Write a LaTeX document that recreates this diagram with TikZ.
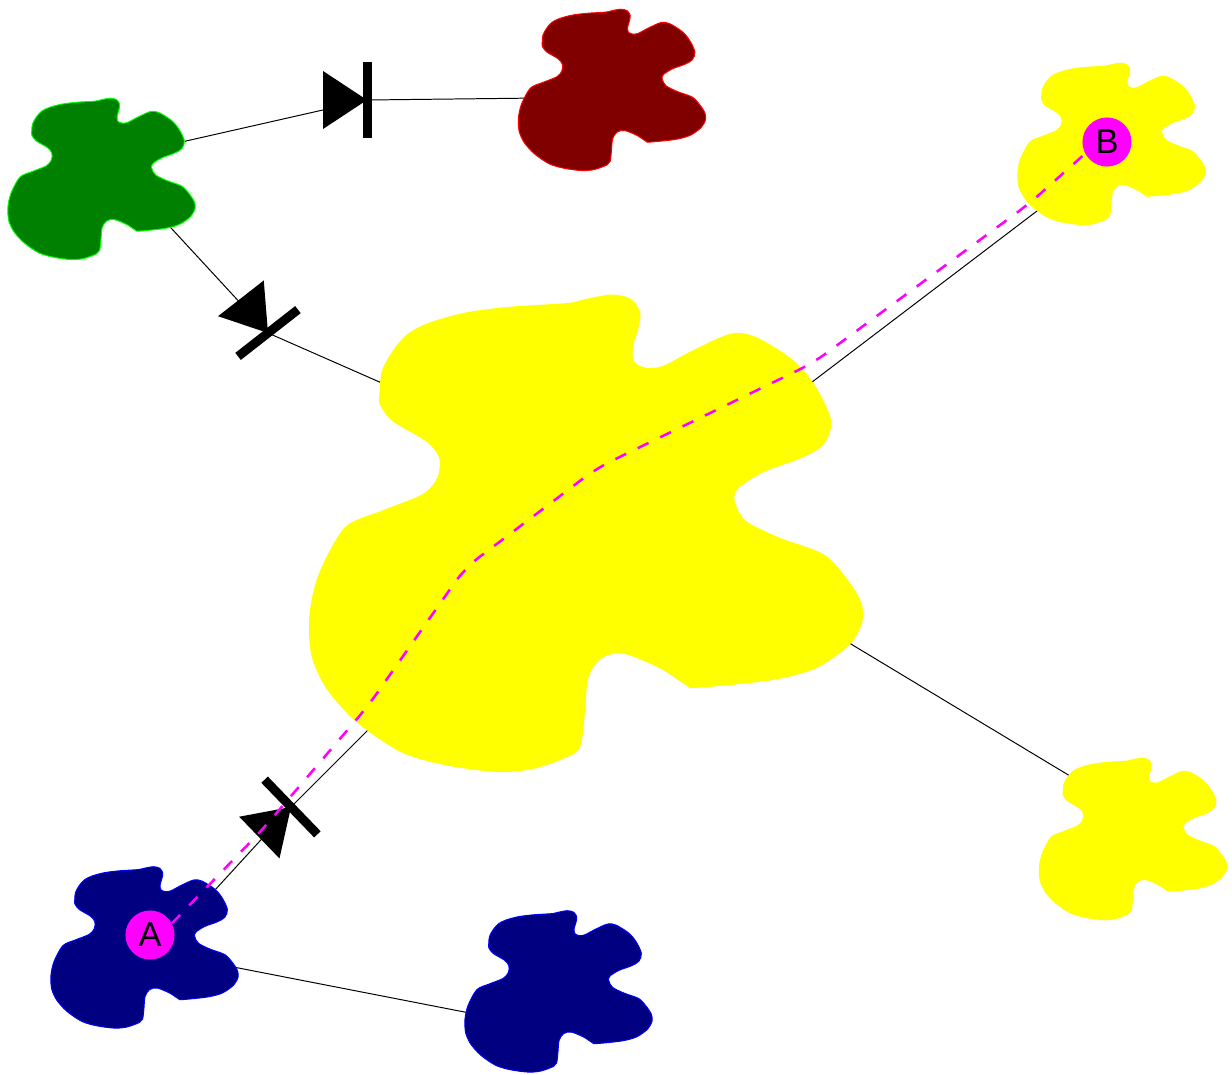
\documentclass[tikz,border=0pt]{standalone}
\usepackage{fontspec}
\setmainfont{Liberation Sans}
\usepackage{tikz}

\definecolor{leafgreen}{RGB}{0,128,0}
\definecolor{darkmaroon}{RGB}{128,0,0}
\definecolor{deepnavy}{RGB}{0,0,128}
\definecolor{rimgreen}{RGB}{0,255,0}
\definecolor{rimred}{RGB}{255,0,0}
\definecolor{rimblue}{RGB}{0,0,255}
\definecolor{sunyellow}{RGB}{255,255,0}
\definecolor{hotmagenta}{RGB}{255,0,255}

\tikzset{
  blob/.pic={
    \path[pic actions] plot[smooth cycle] coordinates {
      (-69.7,-48.3) (-69.0,-55.0) (-65.3,-61.8) (-60.3,-67.5) (-52.7,-71.4)
      (-40.2,-74.8) (-25.1,-76.7) (-6.3,-77.9) (0,-79.3) (8.8,-80.8)
      (15.1,-79.3) (18.2,-74.8) (17.6,-69.7) (15.7,-63.0) (16.3,-57.9)
      (20.7,-55.9) (26.4,-56.7) (35.1,-61.3) (49.0,-67.5) (57.7,-66.3)
      (70.3,-58.4) (77.8,-49.4) (82.9,-38.1) (80.3,-30.2) (72.8,-25.7)
      (60.3,-21.1) (51.5,-15.5) (50.2,-11.0) (54.0,-4.2) (65.3,1.5)
      (80.3,7.1) (87.9,15.0) (92.9,22.9) (93.5,29.7) (89.1,37.6)
      (77.8,45.5) (62.8,49.5) (37.7,52.1) (33.9,51.2) (25.1,45.5)
      (12.6,40.5) (5.0,42.2) (0.6,48.9) (-0.6,61.4) (-1.9,71.5)
      (-5.0,74.9) (-17.6,79.5) (-30.1,80.6) (-47.7,78.3) (-62.8,73.8)
      (-77.8,63.6) (-87.9,52.3) (-92.9,41.0) (-93.5,27.5) (-90.4,13.9)
      (-81.6,-1.9) (-69.0,-7.6) (-55.2,-13.2) (-50.2,-18.9) (-49.6,-25.7)
      (-54.0,-31.3) (-65.3,-38.1) (-69.7,-43.8)};
  },
  diode/.pic={
    \fill[black] (-44,-29) -- (-44,29) -- (0,0) -- cycle;
    \fill[black] (-4.5,-38) rectangle (4.5,38);
  },
  link/.style={line width=0.7pt, black},
  route/.style={hotmagenta, line width=1.8pt, dash pattern=on 8.5pt off 9.2pt, rounded corners=12pt},
  host/.style={circle, fill=hotmagenta, inner sep=0pt, minimum size=34.9pt, font=\fontsize{24.5}{28}\selectfont}
}

\begin{document}
\begin{tikzpicture}[x=0.025cm, y=-0.025cm]
    \useasboundingbox (0,0) rectangle (1232,1074);

    % centres of the blobs
    \coordinate (green) at (101.5,179);
    \coordinate (maroon) at (612,90);
    \coordinate (core) at (586,533.5);
    \coordinate (yne) at (1111.5,144);
    \coordinate (yse) at (1133,839);
    \coordinate (navyA) at (144.5,947.5);
    \coordinate (navyB) at (558.5,991.5);

    % ends of the links and diodes
    \coordinate (green-e) at (164,146);
    \coordinate (green-s) at (160,216);
    \coordinate (maroon-w) at (540,98);
    \coordinate (core-nw) at (400,391);
    \coordinate (core-sw) at (385,713);
    \coordinate (core-ne) at (795,395);
    \coordinate (core-se) at (826,629);
    \coordinate (yne-sw) at (1058,195);
    \coordinate (yse-nw) at (1080,782);
    \coordinate (navyA-ne) at (204,902);
    \coordinate (navyA-e) at (218,964);
    \coordinate (navyB-w) at (485,1016);
    \coordinate (d1) at (367,100);
    \coordinate (d2) at (268,333);
    \coordinate (d3) at (291,807);

    % links
    \draw[link] (green-e) -- (d1) -- (maroon-w);
    \draw[link] (green-s) -- (d2) -- (core-nw);
    \draw[link] (navyA-ne) -- (d3) -- (core-sw);
    \draw[link] (core-ne) -- (yne-sw);
    \draw[link] (core-se) -- (yse-nw);
    \draw[link] (navyA-e) -- (navyB-w);

    % blobs
    \pic[fill=leafgreen, draw=rimgreen, line width=0.7pt] at (green) {blob};
    \pic[fill=darkmaroon, draw=rimred, line width=0.7pt] at (maroon) {blob};
    \pic[fill=sunyellow, draw=sunyellow, line width=0.7pt, scale=2.952] at (core) {blob};
    \pic[fill=sunyellow, draw=sunyellow, line width=0.7pt] at (yne) {blob};
    \pic[fill=sunyellow, draw=sunyellow, line width=0.7pt] at (yse) {blob};
    \pic[fill=deepnavy, draw=rimblue, line width=0.7pt] at (navyA) {blob};
    \pic[fill=deepnavy, draw=rimblue, line width=0.7pt] at (navyB) {blob};

    % diodes
    \pic at (d1) {diode};
    \pic[rotate=-52] at (d2) {diode};
    \pic[rotate=44] at (d3) {diode};

    % route from A to B
    \node[host] (A) at (150,935) {A};
    \node[host] (B) at (1107,142) {B};
    \coordinate (r1) at (262,830);
    \coordinate (r2) at (368,706);
    \coordinate (r3) at (465,568);
    \coordinate (r4) at (597,468);
    \coordinate (r5) at (813,363);
    \coordinate (r6) at (1030,203);
    \draw[route] (A.28) -- (r1) -- (r2) -- (r3) -- (r4) -- (r5) -- (r6) -- (B.208);
\end{tikzpicture}
\end{document}
